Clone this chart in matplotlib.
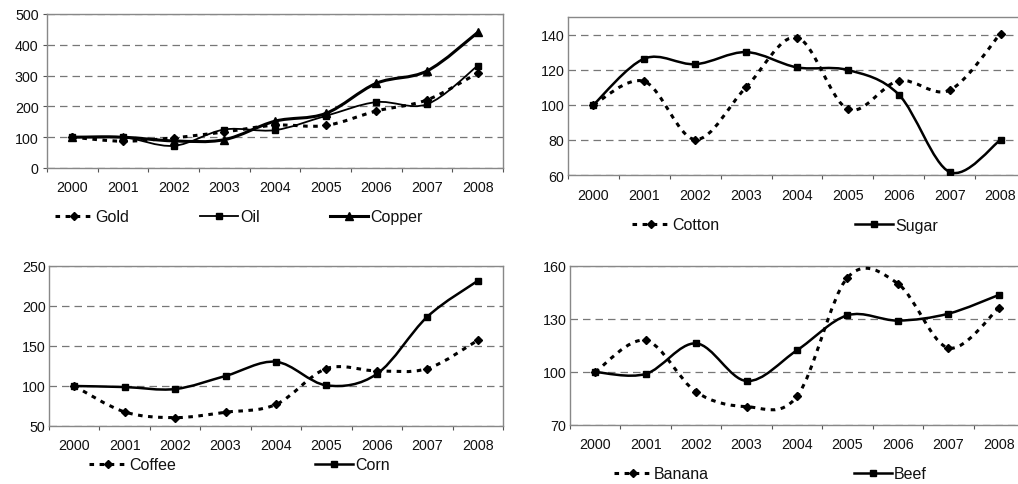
import numpy as np
import matplotlib
matplotlib.use("Agg")
import matplotlib.pyplot as plt
from matplotlib.path import Path
from matplotlib.patches import PathPatch
from matplotlib.lines import Line2D

# ------------------------------------------------------------------ #
#  Daten (Index, 2000 = 100)                                          #
# ------------------------------------------------------------------ #
years = ["2000", "2001", "2002", "2003", "2004", "2005", "2006", "2007", "2008"]

gold   = [100, 87, 98, 117, 139, 138, 185, 221, 308]
oil    = [100, 100, 72, 125, 123, 169, 214, 207, 332]
copper = [100, 100, 88, 92, 152, 177, 275, 315, 440]

cotton = [100, 113.3, 80.2, 110, 138.3, 97.5, 113.7, 108.3, 140.6]
sugar  = [100, 126.3, 123.1, 130, 121.3, 119.8, 105.8, 61.7, 80]

coffee = [100, 67.6, 60.5, 67.2, 76.9, 121.8, 118.9, 121.8, 157.1]
corn   = [100, 98.7, 96.2, 112.6, 130.3, 100.8, 115.1, 186.6, 231.5]

banana = [100, 117.9, 88.7, 80.4, 86.2, 153.4, 150, 113.6, 136.2]
beef   = [100, 98.9, 116.2, 94.9, 112.3, 132.1, 129.1, 133, 143.6]

W, H = 1018, 485
plt.rcParams["font.family"] = ["Liberation Sans", "DejaVu Sans"]
plt.rcParams["font.size"] = 10.3

DOTTED = dict(ls=(0, (1.5, 1.8)), lw=2.2)
SOLID = dict(ls="-", lw=1.8)


def smooth_path(x, y):
    """Geglättete Linie wie in Excel (Catmull-Rom -> Bezier)."""
    pts = np.column_stack([x, y]).astype(float)
    ext = np.vstack([pts[0], pts, pts[-1]])
    verts = [pts[0]]
    codes = [Path.MOVETO]
    for i in range(len(pts) - 1):
        p0, p1, p2, p3 = ext[i], ext[i + 1], ext[i + 2], ext[i + 3]
        verts += [p1 + (p2 - p0) / 6, p2 - (p3 - p1) / 6, p2]
        codes += [Path.CURVE4] * 3
    return Path(verts, codes)


def px_axes(fig, x0, y0, x1, y1):
    return fig.add_axes([x0 / W, 1 - y1 / H, (x1 - x0) / W, (y1 - y0) / H])


def setup(ax, ylim, yticks, ytick_len=0):
    ax.set_xlim(0, len(years))
    ax.set_ylim(*ylim)
    ax.set_yticks(yticks)
    ax.set_xticks(np.arange(len(years) + 1))
    ax.set_xticklabels([])
    ax.set_xticks(np.arange(len(years)) + 0.5, minor=True)
    ax.set_xticklabels(years, minor=True)
    ax.tick_params(axis="x", which="major", length=3, color="#555",
                   direction="out")
    ax.tick_params(axis="x", which="minor", length=0, pad=9,
                   labelcolor="#111")
    ax.tick_params(axis="y", length=ytick_len, color="#555",
                   pad=2.5 if ytick_len == 0 else 3, labelcolor="#111")
    for s in ax.spines.values():
        s.set_color("#888")
        s.set_linewidth(1.0)
    ax.yaxis.grid(True, ls=(0, (6, 4)), color="#777", lw=0.9)
    ax.set_axisbelow(True)


def draw(ax, vals, style, marker, ms, lw=None):
    x = np.arange(len(vals)) + 0.5
    st = dict(style)
    if lw is not None:
        st["lw"] = lw
    ax.add_patch(PathPatch(smooth_path(x, vals), fill=False, ec="black",
                           lw=st["lw"], ls=st["ls"], capstyle="butt",
                           zorder=3))
    ax.plot(x, vals, ls="none", marker=marker, ms=ms, color="black",
            zorder=4)
    return Line2D([], [], color="black", lw=st["lw"], ls=st["ls"],
                  marker=marker, ms=ms, dash_capstyle="butt")


def legend_entry(fig, handle, label, x, y):
    leg = fig.legend(handles=[handle], labels=[label], loc="center left",
                     bbox_to_anchor=(x / W, 1 - y / H), frameon=False,
                     borderpad=0, borderaxespad=0, handlelength=2.4,
                     handletextpad=0.1, numpoints=1, fontsize=11.5)
    for t in leg.get_texts():
        t.set_color("#111")


fig = plt.figure(figsize=(W / 100, H / 100), dpi=100)
fig.patch.set_facecolor("white")

# oben links: Gold, Oil, Copper
ax1 = px_axes(fig, 47, 15, 503, 169)
setup(ax1, (0, 500), [0, 100, 200, 300, 400, 500], ytick_len=3)
h_gold = draw(ax1, gold, DOTTED, "D", 4.5)
h_oil = draw(ax1, oil, SOLID, "s", 5, lw=1.3)
h_copper = draw(ax1, copper, SOLID, "^", 6, lw=2.2)
legend_entry(fig, h_gold, "Gold", 55, 218)
legend_entry(fig, h_oil, "Oil", 200, 218)
legend_entry(fig, h_copper, "Copper", 330, 218)

# oben rechts: Cotton, Sugar
ax2 = px_axes(fig, 568, 18, 1026, 176)
setup(ax2, (60, 150), [60, 80, 100, 120, 140])
h_cotton = draw(ax2, cotton, DOTTED, "D", 4.5)
h_sugar = draw(ax2, sugar, SOLID, "s", 5)
legend_entry(fig, h_cotton, "Cotton", 632, 226)
legend_entry(fig, h_sugar, "Sugar", 855, 226)

# unten links: Coffee, Corn
ax3 = px_axes(fig, 49, 267, 503, 427)
setup(ax3, (50, 250), [50, 100, 150, 200, 250])
h_coffee = draw(ax3, coffee, DOTTED, "D", 4.5)
h_corn = draw(ax3, corn, SOLID, "s", 5)
legend_entry(fig, h_coffee, "Coffee", 89, 466)
legend_entry(fig, h_corn, "Corn", 315, 466)

# unten rechts: Banana, Beef
ax4 = px_axes(fig, 570, 267, 1024, 426)
setup(ax4, (70, 160), [70, 100, 130, 160])
h_banana = draw(ax4, banana, DOTTED, "D", 4.5)
h_beef = draw(ax4, beef, SOLID, "s", 5)
legend_entry(fig, h_banana, "Banana", 614, 475)
legend_entry(fig, h_beef, "Beef", 854, 475)

fig.savefig("out.png", dpi=100)
